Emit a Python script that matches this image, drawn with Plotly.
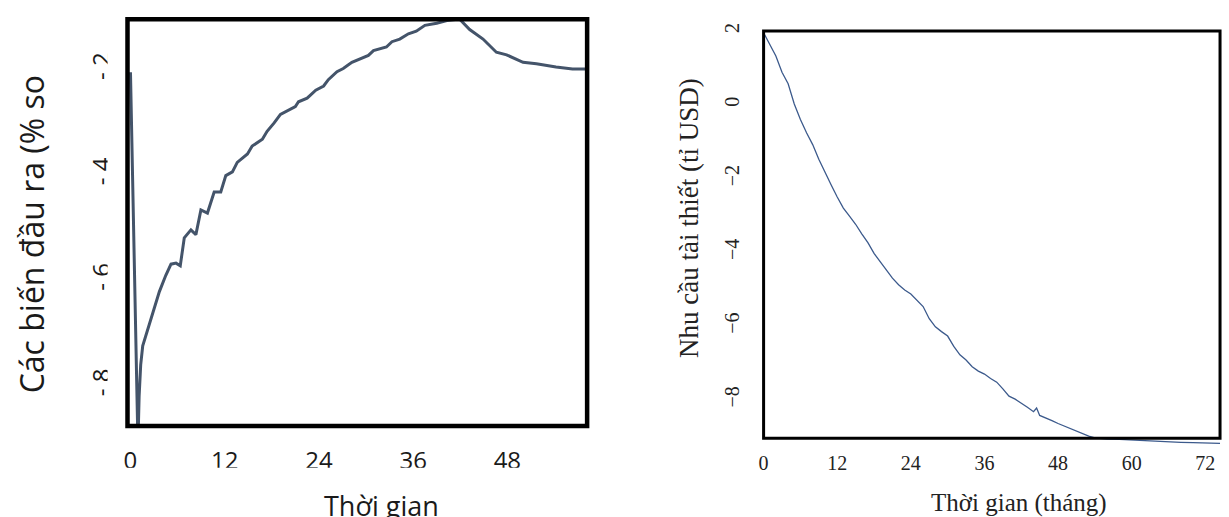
import plotly.graph_objects as go

W, H = 1229, 517

# ---------------- data ----------------
left_t = [0, 0.95, 1.1, 1.3, 1.56, 2.2, 3.04, 3.68, 4.5, 5.16, 5.8, 6.34, 6.85, 7.7, 8.33,
          8.97, 9.8, 10.66, 11.5, 12.14, 12.98, 13.6, 14.9, 15.5, 16.8, 17.4, 18.3, 19.1,
          21.0, 21.4, 22.5, 23.6, 24.6, 25.2, 26.3, 27.1, 28.2, 30.3, 30.95, 32.6, 33.3,
          34.3, 35.4, 36.4, 37.5, 39.0, 40.3, 41.9, 43.2, 44.9, 46.6, 47.9, 50.0, 51.7,
          54.2, 56.3, 58.4]
left_v = [-2.05, -9.1, -8.2, -7.6, -7.24, -6.93, -6.49, -6.21, -5.90, -5.69, -5.67, -5.72,
          -5.19, -5.04, -5.13, -4.66, -4.72, -4.32, -4.32, -4.01, -3.94, -3.76, -3.60, -3.45,
          -3.32, -3.17, -3.01, -2.85, -2.70, -2.61, -2.54, -2.39, -2.31, -2.19, -2.04, -1.98,
          -1.86, -1.73, -1.64, -1.57, -1.47, -1.42, -1.32, -1.27, -1.16, -1.12, -1.07, -1.04,
          -1.24, -1.42, -1.67, -1.72, -1.86, -1.89, -1.95, -1.99, -1.99]

right_t = [0, 1, 2, 3, 4, 5, 6, 7, 8, 9, 10, 11, 12, 13, 14, 15, 16, 17, 18, 19, 20, 21, 22,
           23, 24, 25, 26, 27, 28, 29, 30, 31, 32, 33, 34, 35, 36, 37, 38, 39, 40, 41, 42, 43,
           44, 44.5, 45, 46, 47, 48, 49, 50, 51, 52, 53, 54, 55, 56, 58, 60, 62, 64, 66, 68,
           70, 72, 74.4]
right_v = [1.95, 1.65, 1.32, 0.88, 0.57, 0.02, -0.40, -0.76, -1.08, -1.48, -1.85, -2.17,
           -2.50, -2.80, -3.02, -3.24, -3.50, -3.74, -4.03, -4.26, -4.48, -4.70, -4.88, -5.02,
           -5.13, -5.30, -5.47, -5.80, -6.02, -6.15, -6.27, -6.55, -6.78, -6.92, -7.10, -7.22,
           -7.30, -7.42, -7.52, -7.70, -7.90, -7.98, -8.08, -8.20, -8.32, -8.22, -8.42, -8.48,
           -8.56, -8.64, -8.71, -8.78, -8.85, -8.93, -8.98, -9.03, -9.05, -9.06, -9.07, -9.09,
           -9.10, -9.12, -9.13, -9.15, -9.16, -9.17, -9.18]

left_xticks = [0, 12, 24, 36, 48]
left_yticks = [-8, -6, -4, -2]
left_yticktext = ["- 8", "- 6", "- 4", "- 2"]
right_xticks = [0, 12, 24, 36, 48, 60, 72]
right_yticks = [-8, -6, -4, -2, 0, 2]

left_ytitle = "Các biến đầu ra (% so"
left_xtitle = "Thời gian"
right_ytitle = "Nhu cầu tài thiết (tỉ USD)"
right_xtitle = "Thời gian (tháng)"


def fx(px):
    return px / W


def fy(py):
    return 1 - py / H


fig = go.Figure()
fig.add_trace(go.Scatter(x=left_t, y=left_v, mode="lines", xaxis="x", yaxis="y",
                         line=dict(color="#44546A", width=3), showlegend=False))
fig.add_trace(go.Scatter(x=right_t, y=right_v, mode="lines", xaxis="x2", yaxis="y2",
                         line=dict(color="#3C5A8C", width=1.3), showlegend=False))

sans = "Open Sans"
serif = "Liberation Serif"

fig.update_layout(
    width=W, height=H, margin=dict(l=0, r=0, t=0, b=0),
    paper_bgcolor="white", plot_bgcolor="white",
    xaxis=dict(domain=[fx(123), fx(584.5)], range=[-0.38, 58.16], tickvals=left_xticks,
               showgrid=False, zeroline=False, showline=False, ticks="",
               tickfont=dict(family=sans, size=24, color="#1a1a1a"), ticklabelstandoff=18,
               anchor="y"),
    yaxis=dict(domain=[fy(424.5), fy(11.3)], range=[-8.758, -1.042], tickvals=left_yticks,
               ticktext=left_yticktext, tickangle=-90,
               showgrid=False, zeroline=False, showline=False, ticks="",
               tickfont=dict(family=sans, size=24, color="#1a1a1a"), ticklabelstandoff=12,
               anchor="x"),
    xaxis2=dict(domain=[fx(761.7), fx(1220)], range=[0, 74.4], tickvals=right_xticks,
                showgrid=False, zeroline=False, showline=False, ticks="",
                tickfont=dict(family=serif, size=20, color="#222"), ticklabelstandoff=3,
                anchor="y2"),
    yaxis2=dict(domain=[fy(445), fy(23.3)], range=[-9.253, 2.0], tickvals=right_yticks,
                tickangle=-90, showgrid=False, zeroline=False, showline=False, ticks="",
                tickfont=dict(family=serif, size=20, color="#222"), ticklabelstandoff=20,
                anchor="x2"),
)

shapes = [
    # white covers emulating clipped labels of the source picture
    dict(type="rect", xref="paper", yref="paper", x0=fx(100), x1=fx(600), y0=fy(486), y1=fy(467),
         fillcolor="white", line=dict(width=0), layer="above"),
    dict(type="rect", xref="paper", yref="paper", x0=fx(103), x1=fx(119), y0=fy(430), y1=fy(20),
         fillcolor="white", line=dict(width=0), layer="above"),
    # frames
    dict(type="rect", xref="paper", yref="paper", x0=fx(123), x1=fx(584.5), y0=fy(424.5), y1=fy(11.3),
         line=dict(color="black", width=4.5), fillcolor="rgba(0,0,0,0)", layer="above"),
    dict(type="rect", xref="paper", yref="paper", x0=fx(761.7), x1=fx(1220), y0=fy(437), y1=fy(23.3),
         line=dict(color="black", width=3), fillcolor="rgba(0,0,0,0)", layer="above"),
]
fig.update_layout(shapes=shapes)

annotations = [
    dict(text=left_ytitle, x=fx(27), y=fy(230), xref="paper", yref="paper", textangle=-90,
         showarrow=False, xanchor="center", yanchor="middle",
         font=dict(family=sans, size=32, color="#1a1a1a")),
    dict(text=left_xtitle, x=fx(378), y=fy(505), xref="paper", yref="paper",
         showarrow=False, xanchor="center", yanchor="middle",
         font=dict(family=sans, size=27, color="#1a1a1a")),
    dict(text=right_ytitle, x=fx(686), y=fy(213), xref="paper", yref="paper", textangle=-90,
         showarrow=False, xanchor="center", yanchor="middle",
         font=dict(family=serif, size=27, color="#222")),
    dict(text=right_xtitle, x=fx(1018), y=fy(503), xref="paper", yref="paper",
         showarrow=False, xanchor="center", yanchor="middle",
         font=dict(family=serif, size=25, color="#222")),
]
fig.update_layout(annotations=annotations)

fig.write_html("out.html",
               config={"displayModeBar": False},
               post_script="document.body.style.margin='0px';"
                           "document.documentElement.style.overflow='hidden';"
                           "document.body.style.overflow='hidden';")
